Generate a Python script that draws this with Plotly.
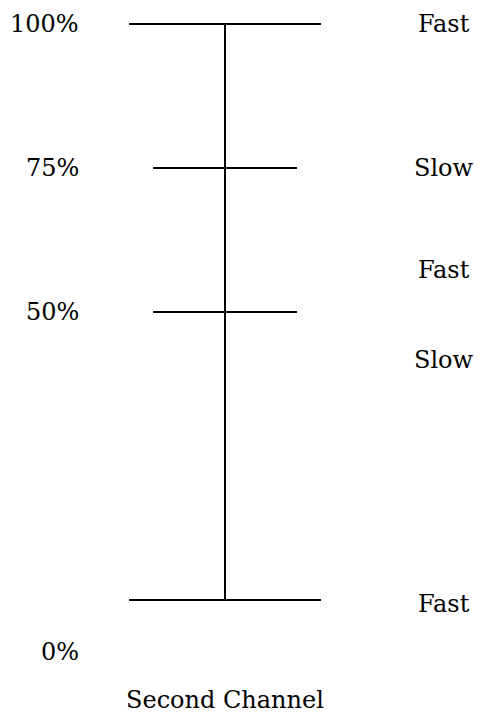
import plotly.graph_objects as go

# Data
levels = [100, 75, 50, 0]            # horizontal bar levels (percent)
level_halfwidth = [96, 72, 72, 96]   # half-lengths of the bars
pct_labels = ["100%", "75%", "50%", "0%"]
pct_positions = [100, 75, 50, -9]
speed_labels = ["Fast", "Slow", "Fast", "Slow", "Fast"]
speed_positions = [100, 75, 57.3, 41.7, -0.7]
channel_title = "Second Channel"

CX = 225
FONT = dict(family="DejaVu Serif", size=24, color="black")
PX_PER_PCT = 5.76
OFF = 8  # page body margin

fig = go.Figure()

# vertical stem
fig.add_trace(go.Scatter(x=[CX, CX], y=[min(levels), max(levels)], mode="lines",
                         line=dict(color="black", width=2), hoverinfo="skip", showlegend=False))
# horizontal bars
for lv, hw in zip(levels, level_halfwidth):
    fig.add_trace(go.Scatter(x=[CX - hw, CX + hw], y=[lv, lv], mode="lines",
                             line=dict(color="black", width=2), hoverinfo="skip", showlegend=False))

for lab, pos in zip(pct_labels, pct_positions):
    fig.add_annotation(x=81, y=pos, text=lab, showarrow=False, xanchor="right",
                       yanchor="middle", font=FONT)
for lab, pos in zip(speed_labels, speed_positions):
    fig.add_annotation(x=444, y=pos, text=lab, showarrow=False, xanchor="center",
                       yanchor="middle", font=FONT)
fig.add_annotation(x=CX, y=-17.4, text=channel_title, showarrow=False, xanchor="center",
                   yanchor="middle", font=FONT)

fig.update_layout(
    width=482 - OFF, height=713 - OFF,
    margin=dict(l=0, r=0, t=0, b=0),
    paper_bgcolor="white", plot_bgcolor="white",
    xaxis=dict(range=[OFF, 482], visible=False, fixedrange=True),
    yaxis=dict(range=[-113 / PX_PER_PCT, (600 - OFF) / PX_PER_PCT], visible=False, fixedrange=True),
)

fig.write_html("out.html")
